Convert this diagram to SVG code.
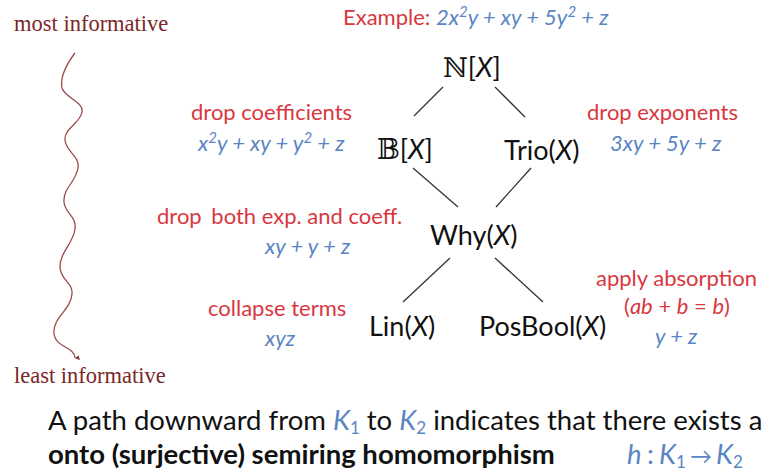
<svg xmlns="http://www.w3.org/2000/svg" width="766" height="476" viewBox="0 0 766 476">
<style>
text{font-family:Lato,"Liberation Sans",sans-serif;}
.red{fill:#d9373f;font-size:22px;}
.blue{fill:#5a85c4;font-size:22px;font-style:italic;}
.node{fill:#111;font-size:27px;}
.it{font-style:italic;}
.side{fill:#7a2828;font-family:"Liberation Serif","DejaVu Serif",serif;font-size:22.5px;}
.dbl{font-family:"DejaVu Serif","DejaVu Sans",serif;font-style:normal;}
.edge{stroke:#333;stroke-width:1.3;fill:none;}
.foot{fill:#111;font-size:27.5px;}
.sup{font-size:15px;}
.fb{fill:#5a85c4;font-weight:normal;}
.sub{font-size:17px;}
</style>
<defs>
<marker id="ah" viewBox="0 0 10 10" refX="5" refY="9" markerWidth="5" markerHeight="5" orient="auto-start-reverse" markerUnits="userSpaceOnUse">
<path d="M0,0 L10,0 L5,10 z" fill="#8a3a3a"/>
</marker>
</defs>
<rect width="766" height="476" fill="#fff"/>

<g id="scale">
<text class="side" x="14" y="31">most informative</text>
<path d="M75,53 C66,65 60,78 62,88 C65,98 84,102 82,112 C80,124 64,128 65,140 C66,152 80,156 78,168 C76,182 63,188 64,202 C65,214 77,216 75,229 C73,244 60,252 60,267 C60,280 73,282 72,294 C71,310 52,318 54,334 C56,348 74,346 75,358" stroke="#9a4a4a" stroke-width="1.3" fill="none" marker-end="url(#ah)"/>
<text class="side" x="14" y="383">least informative</text>
</g>

<g id="example">
<text x="343" y="25" class="red">Example: <tspan class="blue">2x<tspan class="sup" dy="-8">2</tspan><tspan dy="8">y + xy + 5y</tspan><tspan class="sup" dy="-8">2</tspan><tspan dy="8"> + z</tspan></tspan></text>
</g>

<g id="connectors">
<line class="edge" x1="443" y1="87" x2="414" y2="116"/>
<line class="edge" x1="495" y1="87" x2="525" y2="117"/>
<line class="edge" x1="413" y1="168" x2="458" y2="207"/>
<line class="edge" x1="531" y1="168" x2="496" y2="207"/>
<line class="edge" x1="450" y1="258" x2="403" y2="302"/>
<line class="edge" x1="495" y1="258" x2="543" y2="302"/>
</g>

<g id="n-NX">
<text class="node" x="443" y="77"><tspan class="dbl">ℕ</tspan>[<tspan class="it">X</tspan>]</text>
</g>

<g id="n-BX">
<text class="node" x="377" y="159"><tspan class="dbl">𝔹</tspan>[<tspan class="it">X</tspan>]</text>
<text class="red" x="191" y="120">drop coefficients</text>
<text class="blue" x="198" y="151">x<tspan class="sup" dy="-8">2</tspan><tspan dy="8">y + xy + y</tspan><tspan class="sup" dy="-8">2</tspan><tspan dy="8"> + z</tspan></text>
</g>

<g id="n-Trio">
<text class="node" x="504" y="160">Trio(<tspan class="it">X</tspan>)</text>
<text class="red" x="587" y="120">drop exponents</text>
<text class="blue" x="610" y="151">3xy + 5y + z</text>
</g>

<g id="n-Why">
<text class="node" x="430" y="245">Why(<tspan class="it">X</tspan>)</text>
<text class="red" x="157" y="224">drop <tspan dx="4">both exp. and coeff.</tspan></text>
<text class="blue" x="265" y="254">xy + y + z</text>
</g>

<g id="n-Lin">
<text class="node" x="369" y="336">Lin(<tspan class="it">X</tspan>)</text>
<text class="red" x="208" y="316">collapse terms</text>
<text class="blue" x="265" y="346">xyz</text>
</g>

<g id="n-PosBool">
<text class="node" x="479" y="336">PosBool(<tspan class="it">X</tspan>)</text>
<text class="red" x="596" y="286">apply absorption</text>
<text class="red" x="624" y="314">(<tspan class="it">ab</tspan> + <tspan class="it">b</tspan> = <tspan class="it">b</tspan>)</text>
<text class="blue" x="655" y="344">y + z</text>
</g>

<g id="footer">
<text class="foot" x="48" y="430">A path downward from <tspan class="fb it">K</tspan><tspan class="fb sub" dy="4">1</tspan><tspan dy="-4"> to </tspan><tspan class="fb it">K</tspan><tspan class="fb sub" dy="4">2</tspan><tspan dy="-4"> indicates that there exists a</tspan></text>
<text class="foot" x="48" y="464" font-weight="bold">onto (surjective) semiring homomorphism</text>
<text class="foot fb" y="464" font-size="25"><tspan class="it" x="627">h</tspan><tspan x="647">:</tspan><tspan class="it" x="659">K</tspan><tspan class="sub" dy="4">1</tspan><tspan x="690" dy="-4" font-size="22">→</tspan><tspan class="it" x="716">K</tspan><tspan class="sub" dy="4">2</tspan></text>
</g>
</svg>
